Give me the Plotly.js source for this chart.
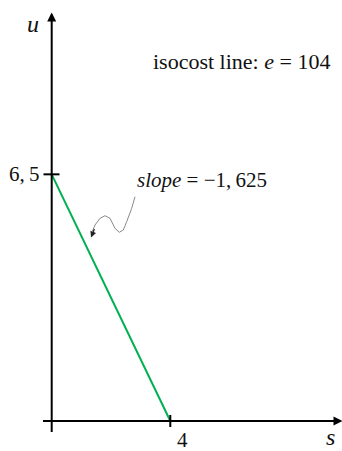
<!DOCTYPE html>
<html>
<head>
<meta charset="utf-8">
<script src="https://cdn.plot.ly/plotly-3.0.1.min.js"></script>
<style>
  html, body { margin: 0; padding: 0; background: #fff; }
  #chart { width: 342px; height: 451px; }
</style>
</head>
<body>
<div id="chart"></div>
<script>
// Isocost line for a budget e: endpoints on the s and u axes
const sVals = [0, 4];
const uVals = [6.5, 0];
const xTickVals = [4];
const xTickText = ['4'];
const yTickVals = [6.5];
const yTickText = ['6,\u20095'];
const budget = 104;
const slopeText = '\u22121,\u2009625';

const W = 342, H = 451;
// pixel geometry of the frame
const ox = 51.7, oy = 421;          // origin in pixels
const pxPerS = 29.65, pxPerU = 37.95;
const xRange = [-ox / pxPerS, (W - ox) / pxPerS];
const yRange = [-(H - oy) / pxPerU, oy / pxPerU];

// pixel -> data helpers for decorations
const sx = px => (px - ox) / pxPerS;
const uy = py => (oy - py) / pxPerU;
const px = x => x / W;
const py = y => 1 - y / H;

const serif = 'Liberation Serif';

const trace = {
  x: sVals, y: uVals, mode: 'lines', type: 'scatter',
  line: { color: '#00b050', width: 2 }, hoverinfo: 'skip'
};

// axes with ticks
const shapes = [];
xTickVals.forEach(v => shapes.push({ type: 'line', xref: 'x', yref: 'y',
  x0: v, x1: v, y0: uy(415), y1: uy(427), line: { color: '#000', width: 2 } }));
yTickVals.forEach(v => shapes.push({ type: 'line', xref: 'x', yref: 'y',
  x0: sx(43.5), x1: sx(59.5), y0: v, y1: v, line: { color: '#000', width: 2 } }));

// wavy pointer to the line
const wave = [[135, 196.7], [131.7, 208.3], [126.7, 221.7], [123.3, 230], [119.3, 232.3],
  [115, 228.3], [110, 218.3], [105, 215.7], [100, 218.3], [95, 225], [92.5, 231]];
let d = 'M ' + sx(wave[0][0]) + ',' + uy(wave[0][1]);
for (let i = 1; i < wave.length; i++) d += ' L ' + sx(wave[i][0]) + ',' + uy(wave[i][1]);
shapes.push({ type: 'path', xref: 'x', yref: 'y', path: d, line: { color: '#8a8a8a', width: 1 } });

const annotations = [
  // vertical axis u with arrow
  { x: 0, y: uy(12.5), ax: 0, ay: uy(433.5), xref: 'x', yref: 'y', axref: 'x', ayref: 'y',
    showarrow: true, arrowhead: 2, arrowsize: 0.9, arrowwidth: 2, arrowcolor: '#000', text: '', standoff: 0 },
  // horizontal axis s with arrow
  { x: sx(342.5), y: 0, ax: sx(41.5), ay: 0, xref: 'x', yref: 'y', axref: 'x', ayref: 'y',
    showarrow: true, arrowhead: 2, arrowsize: 0.9, arrowwidth: 2, arrowcolor: '#000', text: '', standoff: 0 },
  // pointer head
  { x: sx(91), y: uy(237.5), ax: 4, ay: -10, xref: 'x', yref: 'y',
    showarrow: true, arrowhead: 2, arrowsize: 1, arrowwidth: 1.2, arrowcolor: '#222', text: '', standoff: 0 },
  { xref: 'paper', yref: 'paper', x: px(32.5), y: py(24), text: '<i>u</i>', showarrow: false,
    xanchor: 'center', yanchor: 'middle', font: { family: serif, size: 24, color: '#111' } },
  { xref: 'paper', yref: 'paper', x: px(330.5), y: py(437), text: '<i>s</i>', showarrow: false,
    xanchor: 'center', yanchor: 'middle', font: { family: serif, size: 24, color: '#111' } },
  { xref: 'paper', yref: 'paper', x: px(151), y: py(62), text: 'isocost line: <i>e</i> = ' + budget,
    showarrow: false, xanchor: 'left', yanchor: 'middle', font: { family: serif, size: 22, color: '#111' } },
  { xref: 'paper', yref: 'paper', x: px(135), y: py(180), text: '<i>slope</i> = ' + slopeText,
    showarrow: false, xanchor: 'left', yanchor: 'middle', font: { family: serif, size: 21, color: '#111' } }
];
xTickVals.forEach((v, i) => annotations.push({ xref: 'x', yref: 'paper', x: v + sx(182.5) - sx(170.3),
  y: py(440), text: xTickText[i], showarrow: false, xanchor: 'center', yanchor: 'middle',
  font: { family: serif, size: 21, color: '#111' } }));
yTickVals.forEach((v, i) => annotations.push({ xref: 'paper', yref: 'y', x: px(41), y: v,
  text: yTickText[i], showarrow: false, xanchor: 'right', yanchor: 'middle',
  font: { family: serif, size: 21, color: '#111' } }));

const layout = {
  width: W, height: H,
  margin: { l: 0, r: 0, t: 0, b: 0 },
  paper_bgcolor: '#fff', plot_bgcolor: '#fff',
  showlegend: false,
  font: { family: serif },
  xaxis: { range: xRange, visible: false, fixedrange: true },
  yaxis: { range: yRange, visible: false, fixedrange: true },
  shapes: shapes,
  annotations: annotations
};

Plotly.newPlot('chart', [trace], layout, { staticPlot: true, displayModeBar: false });
</script>
</body>
</html>
